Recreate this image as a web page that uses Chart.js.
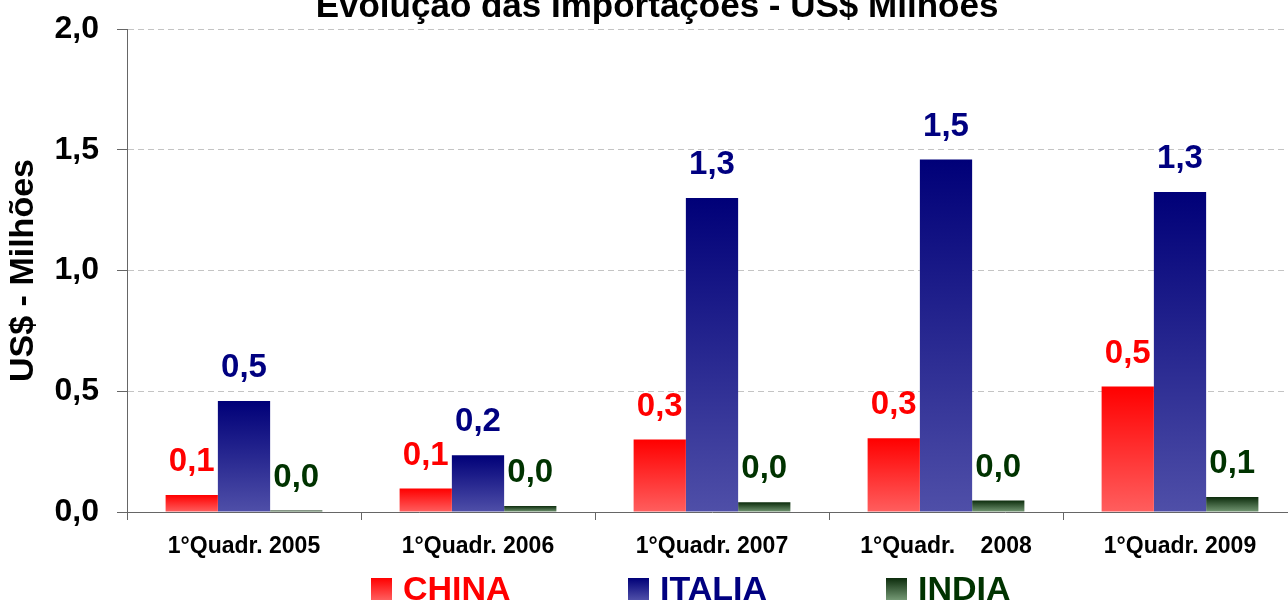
<!DOCTYPE html>
<html>
<head>
<meta charset="utf-8">
<script src="https://cdn.jsdelivr.net/npm/chart.js@4/dist/chart.umd.min.js"></script>
<style>
  html, body { margin: 0; padding: 0; background: #fff; overflow: hidden; }
  #wrap { width: 1288px; height: 601px; overflow: hidden; }
</style>
</head>
<body>
<div id="wrap"><canvas id="chart" width="1300" height="601"></canvas></div>
<script>
// dados
const quadrimestres = ["1°Quadr. 2005", "1°Quadr. 2006", "1°Quadr. 2007", "1°Quadr.    2008", "1°Quadr. 2009"];
const china = [0.07, 0.097, 0.30, 0.305, 0.52];
const italia = [0.46, 0.235, 1.30, 1.46, 1.325];
const india = [0.006, 0.025, 0.04, 0.048, 0.062];
const yTicks = [0, 0.5, 1.0, 1.5, 2.0];

const FONT = "'Liberation Sans', Arial, sans-serif";
const fmt = (v) => v.toFixed(1).replace(".", ",");

const series = [
  { label: "CHINA", data: china, top: "#ff0000", bottom: "#ff5e5e", text: "#ff0000" },
  { label: "ITALIA", data: italia, top: "#000078", bottom: "#4f4fa8", text: "#000080" },
  { label: "INDIA", data: india, top: "#0c2c0c", bottom: "#749874", text: "#003300" },
];

// gradiente vertical em cada barra
function barGradient(top, bottom) {
  return (ctx) => {
    const chart = ctx.chart;
    const y = chart.scales.y;
    if (!chart.chartArea || !y || ctx.type !== "data") return bottom;
    const y0 = y.getPixelForValue(0);
    const y1 = y.getPixelForValue(ctx.raw);
    if (y0 - y1 < 1) return top;
    const g = chart.ctx.createLinearGradient(0, y1, 0, y0);
    g.addColorStop(0, top);
    g.addColorStop(1, bottom);
    return g;
  };
}

const valueLabels = {
  id: "valueLabels",
  afterDatasetsDraw(chart) {
    const ctx = chart.ctx;
    ctx.save();
    ctx.font = "bold 33px " + FONT;
    ctx.textAlign = "center";
    ctx.textBaseline = "middle";
    chart.data.datasets.forEach((ds, i) => {
      ctx.fillStyle = series[i].text;
      chart.getDatasetMeta(i).data.forEach((bar, j) => {
        ctx.fillText(fmt(ds.data[j]), bar.x, bar.y - 33);
      });
    });
    ctx.restore();
  },
};

const titleAndLegend = {
  id: "titleAndLegend",
  afterDraw(chart) {
    const ctx = chart.ctx;
    ctx.save();
    // título (cortado no topo, como no original)
    ctx.font = "bold 35px " + FONT;
    ctx.fillStyle = "#000";
    ctx.textAlign = "center";
    ctx.textBaseline = "alphabetic";
    ctx.fillText("Evolução das Importações - US$ Milhões", 657, 17);

    // legenda
    const legendX = [371, 628, 886];
    ctx.font = "bold 34px " + FONT;
    ctx.textAlign = "left";
    series.forEach((s, i) => {
      const x = legendX[i];
      const g = ctx.createLinearGradient(0, 578, 0, 600);
      g.addColorStop(0, s.top);
      g.addColorStop(1, s.bottom);
      ctx.fillStyle = g;
      ctx.fillRect(x, 578, 21, 22);
      ctx.fillStyle = s.text;
      ctx.fillText(s.label, x + 32, 600);
    });
    ctx.restore();
  },
};

new Chart(document.getElementById("chart"), {
  type: "bar",
  data: {
    labels: quadrimestres,
    datasets: series.map((s) => ({
      label: s.label,
      data: s.data,
      backgroundColor: barGradient(s.top, s.bottom),
      borderWidth: 0,
      categoryPercentage: 0.67,
      barPercentage: 1.0,
    })),
  },
  options: {
    responsive: false,
    animation: false,
    layout: { padding: { top: 29, right: 3, left: 0, bottom: 0 } },
    plugins: {
      legend: { display: false },
      tooltip: { enabled: false },
      title: { display: false },
    },
    scales: {
      x: {
        offset: true,
        afterFit: (scale) => { scale.height = 89; },
        grid: {
          display: true,
          drawOnChartArea: false,
          drawTicks: true,
          tickLength: 8,
          tickColor: "#666",
          offset: true,
        },
        border: { display: true, color: "#666", width: 1 },
        ticks: {
          color: "#000",
          font: { family: FONT, size: 23, weight: "bold" },
          padding: 13,
          maxRotation: 0,
          autoSkip: false,
        },
      },
      y: {
        min: 0,
        max: 2,
        afterFit: (scale) => {
          scale.width = 127;
          scale.paddingTop = 0;
          scale.paddingBottom = 0;
        },
        afterBuildTicks: (scale) => { scale.ticks = yTicks.map((v) => ({ value: v })); },
        grid: {
          color: (ctx) => (ctx.tick && ctx.tick.value === 0 ? "rgba(0,0,0,0)" : "#c4c4c4"),
          tickColor: "#666",
          tickLength: 10,
          tickBorderDash: [],
        },
        border: { display: true, color: "#666", width: 1, dash: [6, 4] },
        ticks: {
          color: "#000",
          font: { family: FONT, size: 32, weight: "bold" },
          padding: 18,
          callback: (v) => fmt(v),
        },
        title: {
          display: true,
          text: "US$ - Milhões",
          color: "#000",
          font: { family: FONT, size: 34, weight: "bold" },
          padding: { top: 3, bottom: 0 },
        },
      },
    },
  },
  plugins: [valueLabels, titleAndLegend],
});
</script>
</body>
</html>
